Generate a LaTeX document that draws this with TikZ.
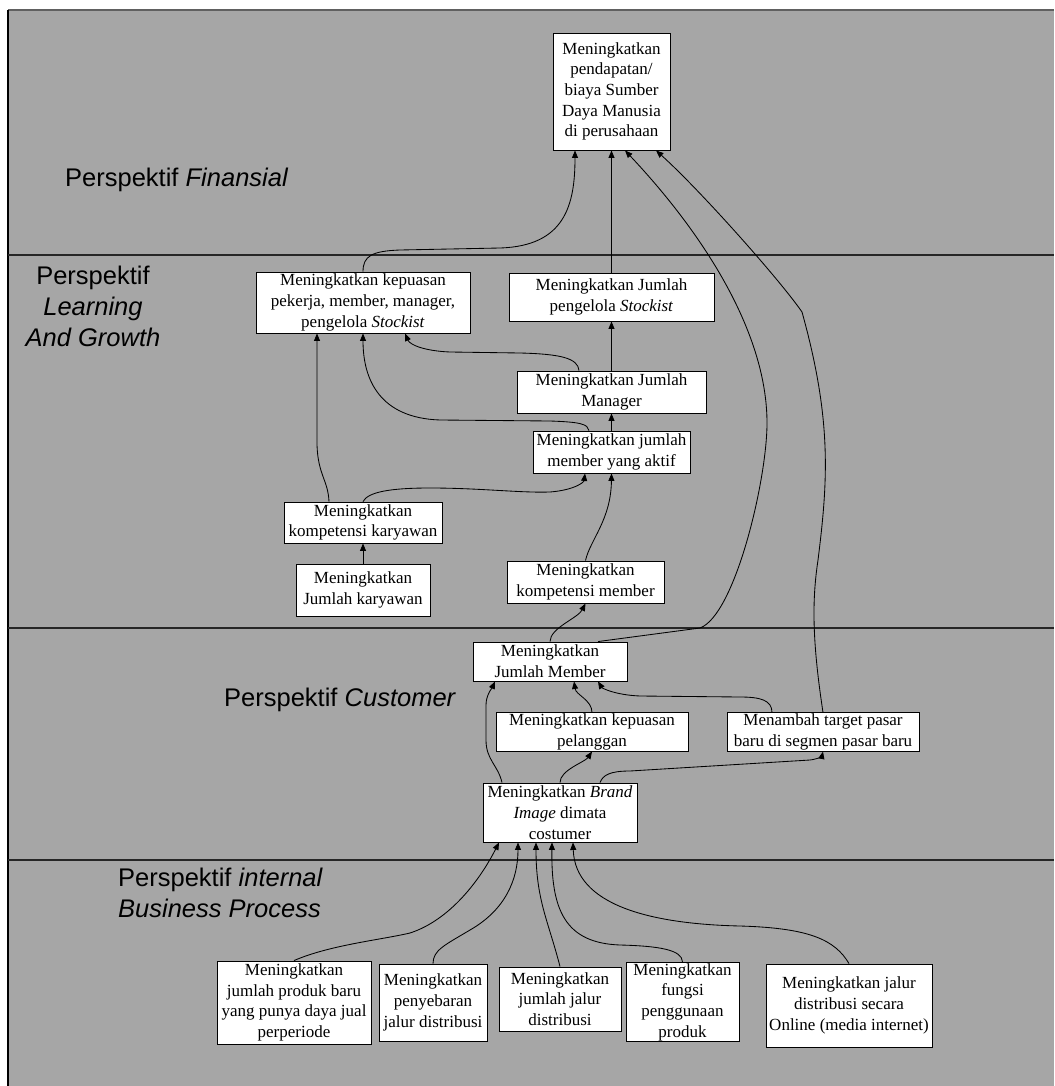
\documentclass[tikz,border=0pt]{standalone}
\usepackage{fontspec}
\setmainfont{Liberation Serif}
\newfontfamily\labfont{Liberation Sans}
\usetikzlibrary{arrows.meta}
\definecolor{bggray}{RGB}{166,166,166}
\definecolor{topline}{RGB}{96,96,96}
\tikzset{
  box/.style={draw=black, line width=0.9pt, fill=white, align=center, inner sep=1pt,
    font=\fontsize{17}{20.7}\selectfont},
  conn/.style={draw=black, line width=0.85pt, -{Triangle[length=7.5pt,width=6pt]}},
  divider/.style={draw=black!85, line width=1.4pt},
  persp/.style={inner sep=0pt, font=\labfont\fontsize{25.5}{31}\selectfont}
}
\begin{document}
\begin{tikzpicture}[x=1pt,y=-1pt]
\useasboundingbox (0,0) rectangle (1054,1086);
% background
\fill[bggray] (8,10) rectangle (1054,1086);
\draw[topline, line width=2pt] (8,10) -- (1054,10);
\draw[black, line width=2pt] (8,10) -- (8,1086);
% dividers
\draw[divider] (8,255) -- (1054,255);
\draw[divider] (8,628) -- (1054,628);
\draw[divider] (8,860) -- (1054,860);

% perspective labels
\node[persp, anchor=west] (lfin) at (65,180) {Perspektif \textit{Finansial}};
\node[persp, align=center] (llg) at (93,306) {Perspektif\\\textit{Learning}\\\textit{And Growth}};
\node[persp, anchor=west] (lcus) at (224,700) {Perspektif \textit{Customer}};
\node[persp, anchor=west, align=left] (lint) at (118,893) {Perspektif \textit{internal}\\\textit{Business Process}};

% nodes
\node[box, minimum width=117pt, minimum height=117pt] (top) at (611.5,91.5)
  {Meningkatkan\\pendapatan/\\biaya Sumber\\Daya Manusia\\di perusahaan};
\node[box, minimum width=214pt, minimum height=61pt] (kp) at (363,302.5)
  {Meningkatkan kepuasan\\pekerja, member, manager,\\pengelola \textit{Stockist}};
\node[box, minimum width=205pt, minimum height=48pt] (st) at (611.5,297)
  {Meningkatkan Jumlah\\pengelola \textit{Stockist}};
\node[box, minimum width=189pt, minimum height=42pt] (mg) at (611.5,392)
  {Meningkatkan Jumlah\\Manager};
\node[box, minimum width=157pt, minimum height=42pt] (ak) at (611.5,452)
  {Meningkatkan jumlah\\member yang aktif};
\node[box, minimum width=158pt, minimum height=41pt] (kk) at (363,522.5)
  {Meningkatkan\\kompetensi karyawan};
\node[box, minimum width=134pt, minimum height=52pt] (jk) at (363,590)
  {Meningkatkan\\Jumlah karyawan};
\node[box, minimum width=157pt, minimum height=42pt] (km) at (585.5,582)
  {Meningkatkan\\kompetensi member};
\node[box, minimum width=154pt, minimum height=39pt] (jm) at (550,661.5)
  {Meningkatkan\\Jumlah Member};
\node[box, minimum width=192pt, minimum height=38pt] (pl) at (592,732)
  {Meningkatkan kepuasan\\pelanggan};
\node[box, minimum width=192pt, minimum height=38pt] (tg) at (823,732)
  {Menambah target pasar\\baru di segmen pasar baru};
\node[box, minimum width=154pt, minimum height=59pt] (br) at (560,812.5)
  {Meningkatkan \textit{Brand}\\\textit{Image} dimata\\costumer};
\node[box, minimum width=154pt, minimum height=83pt] (b1) at (294,1002.5)
  {Meningkatkan\\jumlah produk baru\\yang punya daya jual\\perperiode};
\node[box, minimum width=108pt, minimum height=77pt] (b2) at (433,1002.5)
  {Meningkatkan\\penyebaran\\jalur distribusi};
\node[box, minimum width=122pt, minimum height=64pt] (b3) at (560,999)
  {Meningkatkan\\jumlah jalur\\distribusi};
\node[box, minimum width=113pt, minimum height=78pt] (b4) at (682.5,1002)
  {Meningkatkan\\fungsi\\penggunaan\\produk};
\node[box, minimum width=166pt, minimum height=83pt] (b5) at (849,1005.5)
  {Meningkatkan jalur\\distribusi secara\\Online (media internet)};

% connectors to top
\draw[conn] (kp.north) .. controls (363,256) and (372,251) .. (400,250)
  -- (500,248) .. controls (565,246) and (575,205) .. ([xshift=-36.5pt]top.south);
\draw[conn] (st.north) -- (top.south);
\draw[conn] ([xshift=48pt]jm.north) -- (700,628)
  .. controls (735,615) and (767,480) .. (767,423)
  .. controls (767,330) and (700,230) .. ([xshift=13.5pt]top.south);
\draw[conn] (tg.north) .. controls (812,640) and (812,600) .. (818,560)
  .. controls (828,480) and (832,420) .. (802,312)
  .. controls (780,280) and (700,190) .. ([xshift=44.5pt]top.south);

% learning and growth
\draw[conn] ([xshift=-32.5pt]mg.north) .. controls (578,358) and (560,354) .. (520,353)
  -- (450,352) .. controls (425,351) and (410,345) .. ([xshift=42pt]kp.south);
\draw[conn] ([xshift=-22.5pt]ak.north) .. controls (588,424) and (580,422) .. (550,421)
  -- (440,420) .. controls (380,418) and (363,380) .. (kp.south);
\draw[conn] (mg.north) -- (st.south);
\draw[conn] (ak.north) -- (mg.south);
\draw[conn] ([xshift=-34pt]kk.north) .. controls (328,480) and (318,475) .. (317,445)
  -- ([xshift=-46pt]kp.south);
\draw[conn] (kk.north) .. controls (368,492) and (390,488) .. (430,488)
  .. controls (480,488) and (520,493) .. (550,492)
  .. controls (575,490) and (584,482) .. ([xshift=-26.5pt]ak.south);
\draw[conn] (jk.north) -- (kk.south);
\draw[conn] (km.north) .. controls (590,540) and (611,520) .. (ak.south);
\draw[conn] (jm.north) .. controls (550,628) and (578,618) .. (km.south);

% customer
\draw[conn] (pl.north) .. controls (592,700) and (576,695) .. ([xshift=24pt]jm.south);
\draw[conn] ([xshift=-51pt]tg.north) .. controls (772,700) and (760,697) .. (740,697)
  -- (640,696) .. controls (615,695) and (602,688) .. ([xshift=48pt]jm.south);
\draw[conn] ([xshift=-58pt]br.north) .. controls (498,765) and (486,760) .. (486,740)
  -- (486,705) .. controls (486,695) and (492,688) .. ([xshift=-55pt]jm.south);
\draw[conn] (br.north) .. controls (560,770) and (585,762) .. (pl.south);
\draw[conn] ([xshift=40pt]br.north) .. controls (603,775) and (610,771) .. (630,771)
  -- (810,760) .. controls (818,759) and (822,756) .. (tg.south);

% internal business process
\draw[conn] (b1.north) .. controls (330,945) and (380,940) .. (410,933)
  .. controls (450,920) and (480,880) .. ([xshift=-61pt]br.south);
\draw[conn] (b2.north) .. controls (433,950) and (445,945) .. (470,930)
  .. controls (505,910) and (518,880) .. ([xshift=-42pt]br.south);
\draw[conn] (b3.north) .. controls (548,920) and (536,900) .. ([xshift=-24pt]br.south);
\draw[conn] (b4.north) .. controls (682,950) and (660,946) .. (620,945)
  .. controls (565,943) and (551,910) .. ([xshift=-8pt]br.south);
\draw[conn] (b5.north) .. controls (835,940) and (810,928) .. (740,926)
  .. controls (650,924) and (575,905) .. ([xshift=13pt]br.south);
\end{tikzpicture}
\end{document}
